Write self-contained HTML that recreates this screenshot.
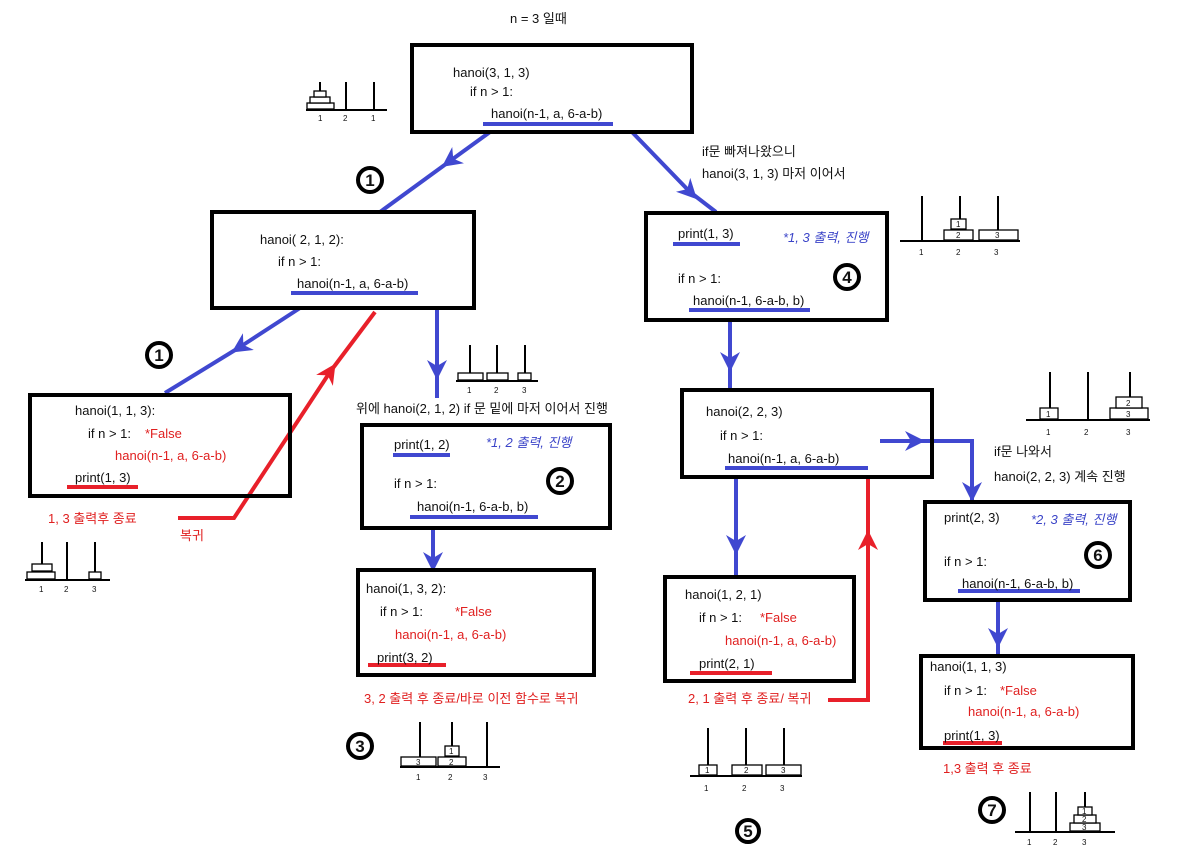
<!DOCTYPE html>
<html><head><meta charset="utf-8"><style>
body{margin:0;background:#fff}
svg{display:block}
text{font-family:"Liberation Sans","Noto Sans CJK KR",sans-serif;font-size:13px;fill:#111}
.r{fill:#e02020}.b{fill:#3b44c8;font-style:italic}
.box{fill:none;stroke:#000;stroke-width:4}
.bl{stroke:#4048d0;stroke-width:4;fill:none}
.rd{stroke:#e8202a;stroke-width:4;fill:none}
.t line{stroke:#000;stroke-width:2}
.t rect{fill:#fff;stroke:#000;stroke-width:1.3}
.t text{font-size:8px}
.c circle{fill:#fff;stroke:#000;stroke-width:4}
.c text{font-size:17px;font-weight:bold;text-anchor:middle}
</style></head><body>
<svg width="1190" height="867" xmlns="http://www.w3.org/2000/svg">
<defs>
<marker id="ab" viewBox="0 0 10 10" refX="5" refY="5" markerWidth="5" markerHeight="5" orient="auto"><path d="M0,0 L10,5 L0,10 L3,5z" fill="#4048d0"/></marker>
<marker id="ar" viewBox="0 0 10 10" refX="5" refY="5" markerWidth="5" markerHeight="5" orient="auto"><path d="M0,0 L10,5 L0,10 L3,5z" fill="#e8202a"/></marker>
</defs>
<text x="510" y="23">n = 3 일때</text>

<path class="bl" d="M490,132 L450,161" marker-end="url(#ab)"/><path class="bl" d="M450,161 L380,212"/>
<path class="bl" d="M632,132 L690,192" marker-end="url(#ab)"/><path class="bl" d="M690,192 L716,212"/>
<path class="bl" d="M300,308 L240,347" marker-end="url(#ab)"/><path class="bl" d="M240,347 L165,393"/>
<path class="bl" d="M437,308 L437,370" marker-end="url(#ab)"/><path class="bl" d="M437,370 L437,398"/>
<path class="bl" d="M433,528 L433,562" marker-end="url(#ab)"/><path class="bl" d="M433,560 L433,570"/>
<path class="bl" d="M730,320 L730,362" marker-end="url(#ab)"/><path class="bl" d="M730,360 L730,390"/>
<path class="bl" d="M736,477 L736,545" marker-end="url(#ab)"/><path class="bl" d="M736,545 L736,577"/>
<path class="bl" d="M880,441 L915,441" marker-end="url(#ab)"/><path class="bl" d="M915,441 L972,441 L972,492" marker-end="url(#ab)"/><path class="bl" d="M972,490 L972,502"/>
<path class="bl" d="M998,600 L998,638" marker-end="url(#ab)"/><path class="bl" d="M998,636 L998,656"/>
<path class="rd" d="M178,518 L234,518 L330,372" marker-end="url(#ar)"/><path class="rd" d="M330,372 L375,312"/>
<path class="rd" d="M828,700 L868,700 L868,540" marker-end="url(#ar)"/><path class="rd" d="M868,540 L868,478"/>

<rect class="box" x="412" y="45" width="280" height="87"/>
<rect class="box" x="212" y="212" width="262" height="96"/>
<rect class="box" x="30" y="395" width="260" height="101"/>
<rect class="box" x="362" y="425" width="248" height="103"/>
<rect class="box" x="358" y="570" width="236" height="105"/>
<rect class="box" x="646" y="213" width="241" height="107"/>
<rect class="box" x="682" y="390" width="250" height="87"/>
<rect class="box" x="665" y="577" width="189" height="104"/>
<rect class="box" x="925" y="502" width="205" height="98"/>
<rect class="box" x="921" y="656" width="212" height="92"/>

<g class="bl">
<line x1="483" y1="124" x2="613" y2="124"/><line x1="291" y1="293" x2="418" y2="293"/>
<line x1="673" y1="244" x2="740" y2="244"/><line x1="689" y1="310" x2="810" y2="310"/>
<line x1="393" y1="455" x2="450" y2="455"/><line x1="410" y1="517" x2="538" y2="517"/>
<line x1="725" y1="468" x2="868" y2="468"/><line x1="958" y1="591" x2="1080" y2="591"/>
</g>
<g class="rd">
<line x1="67" y1="487" x2="138" y2="487"/><line x1="368" y1="665" x2="446" y2="665"/>
<line x1="690" y1="673" x2="772" y2="673"/><line x1="943" y1="743" x2="1002" y2="743"/>
</g>

<text x="453" y="77">hanoi(3, 1, 3)</text><text x="470" y="96">if n &gt; 1:</text><text x="491" y="118">hanoi(n-1, a, 6-a-b)</text>
<text x="260" y="244">hanoi( 2, 1, 2):</text><text x="278" y="266">if n &gt; 1:</text><text x="297" y="288">hanoi(n-1, a, 6-a-b)</text>
<text x="75" y="415">hanoi(1, 1, 3):</text><text x="88" y="438">if n &gt; 1:</text><text class="r" x="145" y="438">*False</text><text class="r" x="115" y="460">hanoi(n-1, a, 6-a-b)</text><text x="75" y="482">print(1, 3)</text>
<text x="394" y="449">print(1, 2)</text><text class="b" x="486" y="447">*1, 2 출력, 진행</text><text x="394" y="488">if n &gt; 1:</text><text x="417" y="511">hanoi(n-1, 6-a-b, b)</text>
<text x="366" y="593">hanoi(1, 3, 2):</text><text x="380" y="616">if n &gt; 1:</text><text class="r" x="455" y="616">*False</text><text class="r" x="395" y="639">hanoi(n-1, a, 6-a-b)</text><text x="377" y="662">print(3, 2)</text>
<text x="678" y="238">print(1, 3)</text><text class="b" x="783" y="242">*1, 3 출력, 진행</text><text x="678" y="283">if n &gt; 1:</text><text x="693" y="305">hanoi(n-1, 6-a-b, b)</text>
<text x="706" y="416">hanoi(2, 2, 3)</text><text x="720" y="440">if n &gt; 1:</text><text x="728" y="463">hanoi(n-1, a, 6-a-b)</text>
<text x="685" y="599">hanoi(1, 2, 1)</text><text x="699" y="622">if n &gt; 1:</text><text class="r" x="760" y="622">*False</text><text class="r" x="725" y="645">hanoi(n-1, a, 6-a-b)</text><text x="699" y="668">print(2, 1)</text>
<text x="944" y="522">print(2, 3)</text><text class="b" x="1031" y="524">*2, 3 출력, 진행</text><text x="944" y="566">if n &gt; 1:</text><text x="962" y="588">hanoi(n-1, 6-a-b, b)</text>
<text x="930" y="671">hanoi(1, 1, 3)</text><text x="944" y="695">if n &gt; 1:</text><text class="r" x="1000" y="695">*False</text><text class="r" x="968" y="716">hanoi(n-1, a, 6-a-b)</text><text x="944" y="740">print(1, 3)</text>

<text x="702" y="156">if문 빠져나왔으니</text><text x="702" y="178">hanoi(3, 1, 3) 마저 이어서</text>
<text x="356" y="413">위에 hanoi(2, 1, 2) if 문 밑에 마저 이어서 진행</text>
<text class="r" x="48" y="523">1, 3 출력후 종료</text><text class="r" x="180" y="540">복귀</text>
<text class="r" x="364" y="703">3, 2 출력 후 종료/바로 이전 함수로 복귀</text>
<text class="r" x="688" y="703">2, 1 출력 후 종료/ 복귀</text>
<text x="994" y="456">if문 나와서</text><text x="994" y="481">hanoi(2, 2, 3) 계속 진행</text>
<text class="r" x="943" y="773">1,3 출력 후 종료</text>

<g class="c">
<circle cx="370" cy="180" r="12"/><text x="370" y="186">1</text>
<circle cx="159" cy="355" r="12"/><text x="159" y="361">1</text>
<circle cx="560" cy="481" r="12"/><text x="560" y="487">2</text>
<circle cx="847" cy="277" r="12"/><text x="847" y="283">4</text>
<circle cx="1098" cy="555" r="12"/><text x="1098" y="561">6</text>
<circle cx="360" cy="746" r="12"/><text x="360" y="752">3</text>
<circle cx="748" cy="831" r="11"/><text x="748" y="837">5</text>
<circle cx="992" cy="810" r="12"/><text x="992" y="816">7</text>
</g>

<g class="t">
<line x1="306" y1="110" x2="387" y2="110"/><line x1="320" y1="82" x2="320" y2="110"/><line x1="346" y1="82" x2="346" y2="110"/><line x1="374" y1="82" x2="374" y2="110"/>
<rect x="307" y="103" width="27" height="6"/><rect x="310" y="97" width="20" height="6"/><rect x="314" y="91" width="12" height="6"/>
<text x="318" y="121">1</text><text x="343" y="121">2</text><text x="371" y="121">1</text>

<line x1="900" y1="241" x2="1020" y2="241"/><line x1="922" y1="196" x2="922" y2="241"/><line x1="960" y1="196" x2="960" y2="241"/><line x1="998" y1="196" x2="998" y2="241"/>
<rect x="944" y="230" width="29" height="10"/><rect x="951" y="219" width="15" height="10"/><rect x="979" y="230" width="39" height="10"/>
<text x="956" y="238">2</text><text x="956" y="227">1</text><text x="995" y="238">3</text>
<text x="919" y="255">1</text><text x="956" y="255">2</text><text x="994" y="255">3</text>

<line x1="456" y1="381" x2="538" y2="381"/><line x1="470" y1="345" x2="470" y2="381"/><line x1="497" y1="345" x2="497" y2="381"/><line x1="525" y1="345" x2="525" y2="381"/>
<rect x="458" y="373" width="25" height="7"/><rect x="487" y="373" width="21" height="7"/><rect x="518" y="373" width="13" height="7"/>
<text x="467" y="393">1</text><text x="494" y="393">2</text><text x="522" y="393">3</text>

<line x1="25" y1="580" x2="110" y2="580"/><line x1="42" y1="542" x2="42" y2="580"/><line x1="67" y1="542" x2="67" y2="580"/><line x1="95" y1="542" x2="95" y2="580"/>
<rect x="27" y="572" width="28" height="7"/><rect x="32" y="564" width="20" height="7"/><rect x="89" y="572" width="12" height="7"/>
<text x="39" y="592">1</text><text x="64" y="592">2</text><text x="92" y="592">3</text>

<line x1="1026" y1="420" x2="1150" y2="420"/><line x1="1050" y1="372" x2="1050" y2="420"/><line x1="1088" y1="372" x2="1088" y2="420"/><line x1="1130" y1="372" x2="1130" y2="420"/>
<rect x="1040" y="408" width="18" height="11"/><rect x="1110" y="408" width="38" height="11"/><rect x="1116" y="397" width="26" height="11"/>
<text x="1046" y="417">1</text><text x="1126" y="417">3</text><text x="1126" y="406">2</text>
<text x="1046" y="435">1</text><text x="1084" y="435">2</text><text x="1126" y="435">3</text>

<line x1="400" y1="767" x2="500" y2="767"/><line x1="420" y1="722" x2="420" y2="767"/><line x1="452" y1="722" x2="452" y2="767"/><line x1="487" y1="722" x2="487" y2="767"/>
<rect x="401" y="757" width="35" height="9"/><rect x="438" y="757" width="28" height="9"/><rect x="445" y="746" width="14" height="10"/>
<text x="416" y="765">3</text><text x="449" y="765">2</text><text x="449" y="754">1</text>
<text x="416" y="780">1</text><text x="448" y="780">2</text><text x="483" y="780">3</text>

<line x1="690" y1="776" x2="802" y2="776"/><line x1="708" y1="728" x2="708" y2="776"/><line x1="746" y1="728" x2="746" y2="776"/><line x1="784" y1="728" x2="784" y2="776"/>
<rect x="699" y="765" width="18" height="10"/><rect x="732" y="765" width="30" height="10"/><rect x="766" y="765" width="35" height="10"/>
<text x="705" y="773">1</text><text x="744" y="773">2</text><text x="781" y="773">3</text>
<text x="704" y="791">1</text><text x="742" y="791">2</text><text x="780" y="791">3</text>

<line x1="1015" y1="832" x2="1115" y2="832"/><line x1="1030" y1="792" x2="1030" y2="832"/><line x1="1056" y1="792" x2="1056" y2="832"/><line x1="1085" y1="792" x2="1085" y2="832"/>
<rect x="1070" y="823" width="30" height="8"/><rect x="1074" y="815" width="22" height="8"/><rect x="1078" y="807" width="14" height="8"/>
<text x="1082" y="830">3</text><text x="1082" y="822">2</text><text x="1082" y="814">1</text>
<text x="1027" y="845">1</text><text x="1053" y="845">2</text><text x="1082" y="845">3</text>
</g>
</svg>
</body></html>
